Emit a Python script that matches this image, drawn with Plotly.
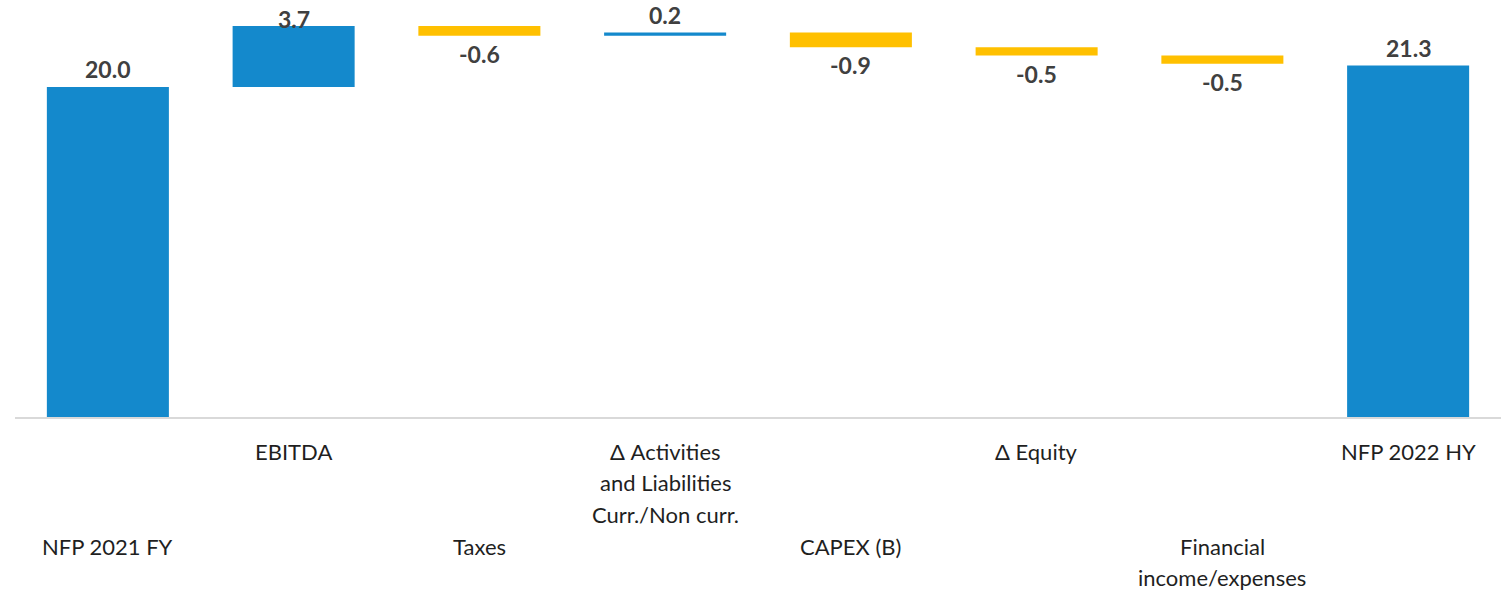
import plotly.graph_objects as go

categories = ["NFP 2021 FY", "EBITDA", "Taxes",
              "Δ Activities<br>and Liabilities<br>Curr./Non curr.",
              "CAPEX (B)", "Δ Equity", "Financial<br>income/expenses", "NFP 2022 HY"]
values = [20.0, 3.7, -0.6, 0.2, -0.9, -0.5, -0.5, 21.3]
measures = ["absolute", "relative", "relative", "relative",
            "relative", "relative", "relative", "absolute"]
value_labels = [f"{v:.1f}" for v in values]

BLUE = "#1489CC"
YELLOW = "#FFC000"
FONT = "Lato"
Y_MAX = 25.27
PLOT_H = 417
PX_PER_UNIT = PLOT_H / Y_MAX

ids = [f"c{i}" for i in range(len(categories))]

fig = go.Figure(go.Waterfall(
    x=ids,
    y=values,
    measure=measures,
    increasing=dict(marker=dict(color=BLUE)),
    decreasing=dict(marker=dict(color=YELLOW)),
    totals=dict(marker=dict(color=BLUE)),
    connector=dict(visible=False),
    hoverinfo="skip",
))

annotations = []

# value labels placed at each bar's end (running total), clamped inside the chart
running = 0.0
for cid, v, m, lab in zip(ids, values, measures, value_labels):
    running = v if m == "absolute" else running + v
    vfont = dict(family=FONT, size=23, color="#404040", weight="bold")
    if v >= 0:
        room = (Y_MAX - running) * PX_PER_UNIT
        if room < 32:
            annotations.append(dict(x=cid, y=1, xref="x", yref="paper", text=lab,
                                    showarrow=False, xanchor="center", yanchor="top",
                                    yshift=-3, font=vfont))
        else:
            annotations.append(dict(x=cid, y=running, xref="x", yref="y", text=lab,
                                    showarrow=False, xanchor="center", yanchor="bottom",
                                    yshift=2, font=vfont))
    else:
        annotations.append(dict(x=cid, y=running, xref="x", yref="y", text=lab,
                                showarrow=False, xanchor="center", yanchor="top",
                                yshift=-2, font=vfont))

# staggered category labels
LINE = 31.5
for i, (cid, label) in enumerate(zip(ids, categories)):
    upper = (i % 2 == 1)
    first = 34 if upper else 129
    for k, line in enumerate(label.split("<br>")):
        annotations.append(dict(
            x=cid, y=0, xref="x", yref="paper",
            text=line, showarrow=False,
            xanchor="center", yanchor="middle",
            yshift=-(first + k * LINE),
            font=dict(family=FONT, size=22, color="#1f1f1f"),
            align="center",
        ))

fig.update_layout(
    width=1509, height=593,
    margin=dict(l=15, r=8, t=0, b=176),
    paper_bgcolor="white", plot_bgcolor="white",
    showlegend=False,
    waterfallgap=0.343,
    annotations=annotations,
    xaxis=dict(showticklabels=False, showgrid=False, zeroline=False,
               showline=True, linecolor="#d9d9d9", linewidth=2, ticks=""),
    yaxis=dict(range=[0, Y_MAX], visible=False, showgrid=False, zeroline=False),
    font=dict(family=FONT),
)

fig.write_html(
    "out.html",
    config={"displayModeBar": False},
    post_script="document.body.style.margin='0';document.body.style.overflow='hidden';",
)
